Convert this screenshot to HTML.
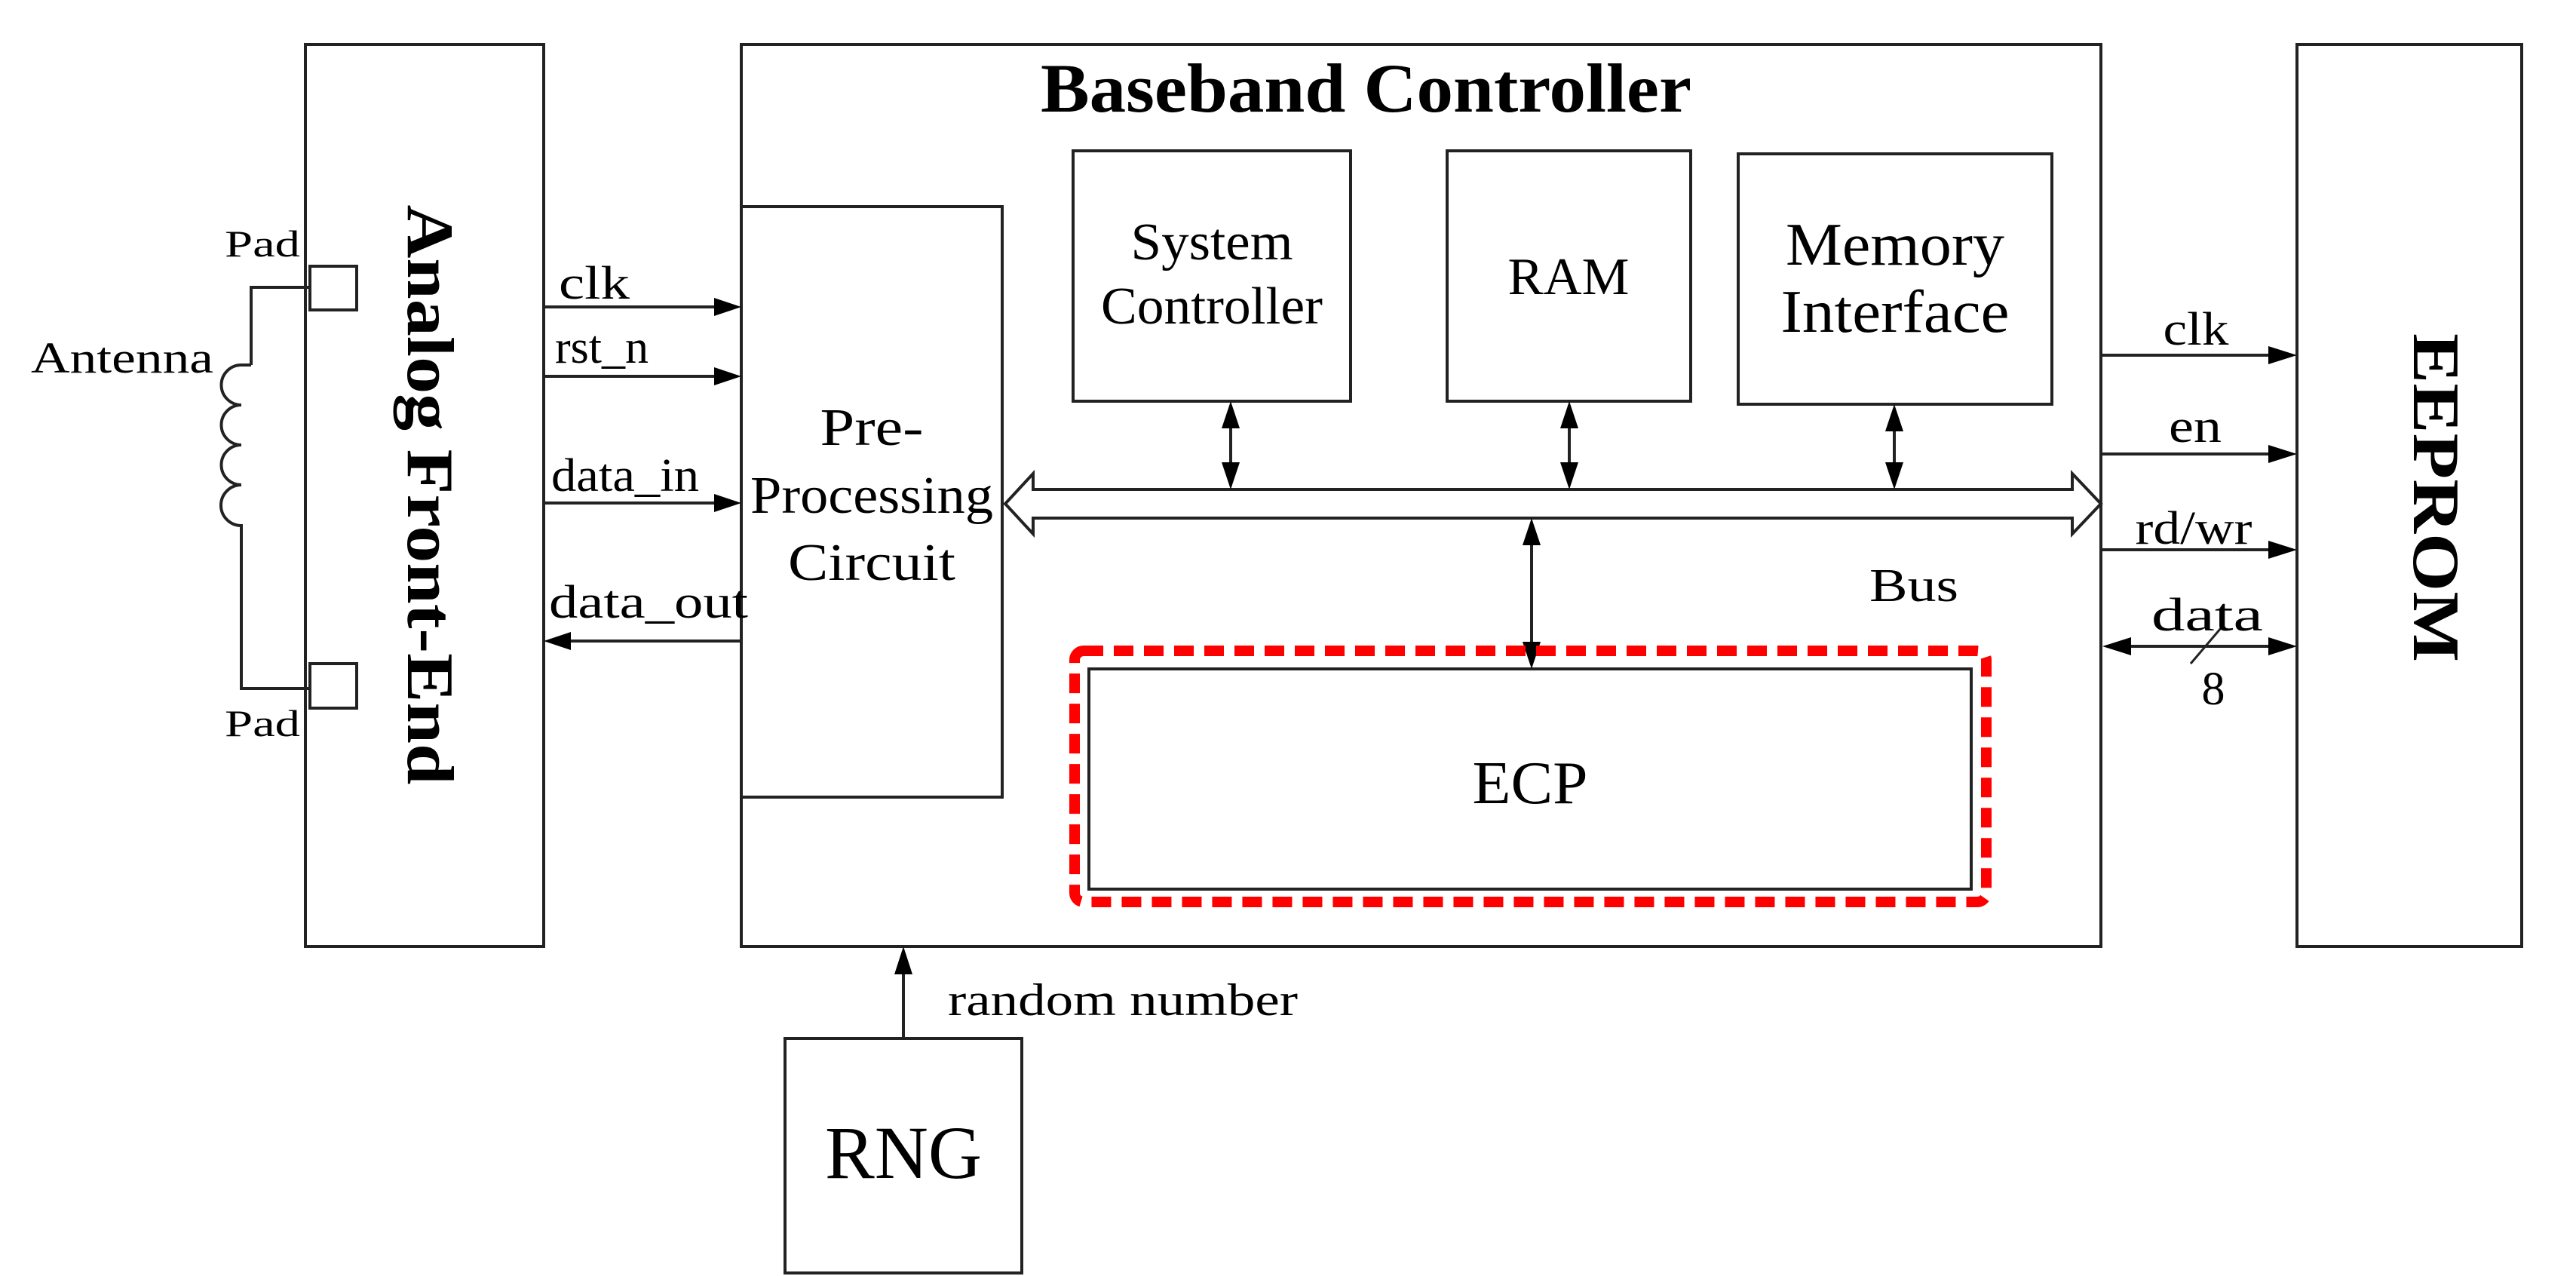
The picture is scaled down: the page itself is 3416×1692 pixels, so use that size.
<!DOCTYPE html>
<html><head><meta charset="utf-8"><style>
html,body{margin:0;padding:0;background:#fff;}
svg{display:block;}
text{font-family:"Liberation Serif",serif;fill:#000;}
</style></head><body>
<svg width="3416" height="1692" viewBox="0 0 3416 1692" xmlns="http://www.w3.org/2000/svg">
<g fill="none" stroke="#222" stroke-width="4">
<rect x="405" y="59" width="316" height="1196"/>
<rect x="983" y="59" width="1803" height="1196"/>
<rect x="3046" y="59" width="298" height="1196"/>
<rect x="983" y="274" width="346" height="783"/>
<rect x="1423" y="200" width="368" height="332"/>
<rect x="1919" y="200" width="323" height="332"/>
<rect x="2305" y="204" width="416" height="332"/>
<rect x="1444" y="887" width="1170" height="292"/>
<rect x="1041" y="1377" width="314" height="311"/>
<rect x="411" y="353" width="62" height="58"/>
<rect x="411" y="880" width="62" height="59"/>
<path d="M1333,668 L1370,628 L1370,649 L2748,649 L2748,628 L2786,668 L2748,708 L2748,687 L1370,687 L1370,708 Z" stroke-width="4"/>
<path d="M411,381 L333,381 L333,484"/>
<path d="M333,484 L320,484 A26,26 0 0 0 320,537 A26,26 0 0 0 320,590 A26,26 0 0 0 320,643 A26,26 0 0 0 320,697 L320,913 L411,913"/>
<line x1="721" y1="407" x2="950" y2="407"/>
<line x1="721" y1="499" x2="950" y2="499"/>
<line x1="721" y1="667" x2="950" y2="667"/>
<line x1="755" y1="850" x2="983" y2="850"/>
<line x1="2786" y1="471" x2="3010" y2="471"/>
<line x1="2786" y1="602" x2="3010" y2="602"/>
<line x1="2786" y1="729" x2="3010" y2="729"/>
<line x1="2825" y1="857" x2="3010" y2="857"/>
<line x1="2905" y1="880" x2="2945" y2="833" stroke-width="3"/>
<line x1="1632" y1="566" x2="1632" y2="616"/>
<line x1="2081" y1="566" x2="2081" y2="616"/>
<line x1="2512" y1="570" x2="2512" y2="616"/>
<line x1="2031" y1="720" x2="2031" y2="855"/>
<line x1="1198" y1="1377" x2="1198" y2="1292"/>
</g>
<g fill="#000">
<polygon points="983,407 947,395 947,419"/>
<polygon points="983,499 947,487 947,511"/>
<polygon points="983,667 947,655 947,679"/>
<polygon points="721,850 757,838 757,862"/>
<polygon points="3046,471 3008,459 3008,483"/>
<polygon points="3046,602 3008,590 3008,614"/>
<polygon points="3046,729 3008,717 3008,741"/>
<polygon points="3046,857 3008,845 3008,869"/>
<polygon points="2788,857 2826,845 2826,869"/>
<polygon points="1632,532 1620,568 1644,568"/>
<polygon points="1632,649 1620,613 1644,613"/>
<polygon points="2081,532 2069,568 2093,568"/>
<polygon points="2081,649 2069,613 2093,613"/>
<polygon points="2512,536 2500,572 2524,572"/>
<polygon points="2512,649 2500,613 2524,613"/>
<polygon points="2031,687 2019,723 2043,723"/>
<polygon points="2031,887 2019,851 2043,851"/>
<polygon points="1198,1255 1186,1292 1210,1292"/>
</g>
<rect x="1425" y="863" width="1209" height="333" rx="12" fill="none" stroke="#f00" stroke-width="14" stroke-dasharray="26,14"/>
<text x="1380" y="148" font-size="92" font-weight="bold" textLength="863" lengthAdjust="spacingAndGlyphs">Baseband Controller</text>
<text x="1607" y="344" font-size="70" text-anchor="middle" textLength="215" lengthAdjust="spacingAndGlyphs">System</text>
<text x="1607" y="429" font-size="70" text-anchor="middle" textLength="294" lengthAdjust="spacingAndGlyphs">Controller</text>
<text x="2080" y="390" font-size="70" text-anchor="middle" textLength="161" lengthAdjust="spacingAndGlyphs">RAM</text>
<text x="2513" y="351" font-size="80" text-anchor="middle" textLength="290" lengthAdjust="spacingAndGlyphs">Memory</text>
<text x="2513" y="440" font-size="80" text-anchor="middle" textLength="303" lengthAdjust="spacingAndGlyphs">Interface</text>
<text x="1156" y="590" font-size="70" text-anchor="middle" textLength="137" lengthAdjust="spacingAndGlyphs">Pre-</text>
<text x="1156" y="680" font-size="70" text-anchor="middle" textLength="322" lengthAdjust="spacingAndGlyphs">Processing</text>
<text x="1156" y="769" font-size="70" text-anchor="middle" textLength="222" lengthAdjust="spacingAndGlyphs">Circuit</text>
<text x="2029" y="1065" font-size="80" text-anchor="middle" textLength="153" lengthAdjust="spacingAndGlyphs">ECP</text>
<text x="2538" y="797" font-size="62" text-anchor="middle" textLength="118" lengthAdjust="spacingAndGlyphs">Bus</text>
<text x="162" y="494" font-size="58" text-anchor="middle" textLength="242" lengthAdjust="spacingAndGlyphs">Antenna</text>
<text x="348" y="340" font-size="50" text-anchor="middle" textLength="100" lengthAdjust="spacingAndGlyphs">Pad</text>
<text x="348" y="976" font-size="50" text-anchor="middle" textLength="100" lengthAdjust="spacingAndGlyphs">Pad</text>
<text x="788" y="396" font-size="62" text-anchor="middle" textLength="94" lengthAdjust="spacingAndGlyphs">clk</text>
<text x="798" y="481" font-size="62" text-anchor="middle" textLength="124" lengthAdjust="spacingAndGlyphs">rst_n</text>
<text x="829" y="651" font-size="62" text-anchor="middle" textLength="196" lengthAdjust="spacingAndGlyphs">data_in</text>
<text x="860" y="819" font-size="62" text-anchor="middle" textLength="264" lengthAdjust="spacingAndGlyphs">data_out</text>
<text x="2912" y="457" font-size="62" text-anchor="middle" textLength="87" lengthAdjust="spacingAndGlyphs">clk</text>
<text x="2911" y="586" font-size="62" text-anchor="middle" textLength="70" lengthAdjust="spacingAndGlyphs">en</text>
<text x="2909" y="721" font-size="62" text-anchor="middle" textLength="155" lengthAdjust="spacingAndGlyphs">rd/wr</text>
<text x="2927" y="836" font-size="62" text-anchor="middle" textLength="148" lengthAdjust="spacingAndGlyphs">data</text>
<text x="2935" y="934" font-size="62" text-anchor="middle">8</text>
<text x="1257" y="1346" font-size="60" textLength="464" lengthAdjust="spacingAndGlyphs">random number</text>
<text x="1198" y="1562" font-size="100" text-anchor="middle" textLength="208" lengthAdjust="spacingAndGlyphs">RNG</text>
<text transform="translate(571,656) rotate(90)" x="0" y="30" font-size="88" font-weight="bold" text-anchor="middle" textLength="769" lengthAdjust="spacingAndGlyphs">Analog Front-End</text>
<text transform="translate(3231,660) rotate(90)" x="0" y="30" font-size="88" font-weight="bold" text-anchor="middle" textLength="436" lengthAdjust="spacingAndGlyphs">EEPROM</text>
</svg>
</body></html>
